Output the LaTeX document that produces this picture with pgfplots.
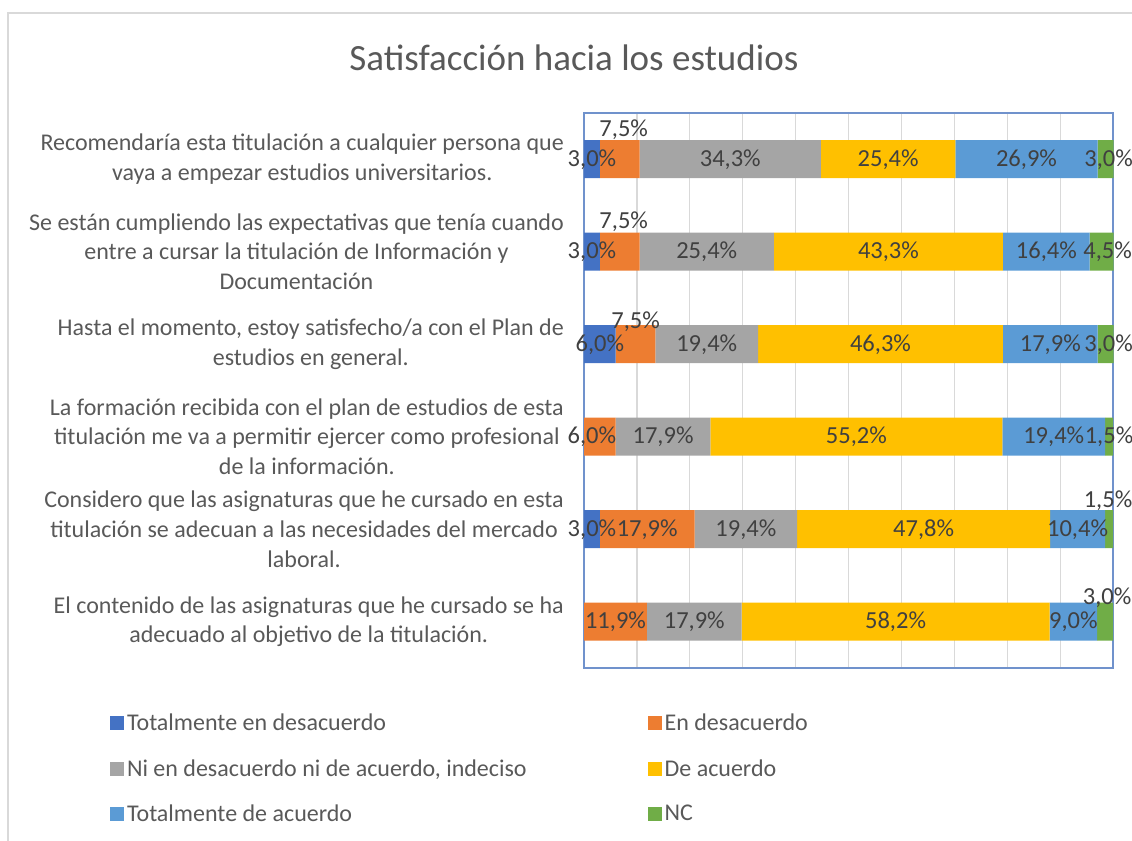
\documentclass[border=0pt]{standalone}
\usepackage{fontspec}
\setmainfont{Carlito}
\usepackage{pgfplots}
\usepackage{pgfplotstable}
\pgfplotsset{compat=1.18}

\definecolor{cTD}{HTML}{4472C4}
\definecolor{cED}{HTML}{ED7D31}
\definecolor{cNI}{HTML}{A5A5A5}
\definecolor{cDA}{HTML}{FFC000}
\definecolor{cTA}{HTML}{5B9BD5}
\definecolor{cNC}{HTML}{70AD47}
\definecolor{txt}{HTML}{595959}
\definecolor{lab}{HTML}{404040}
\definecolor{gridc}{HTML}{D9D9D9}
\definecolor{axc}{RGB}{112,146,204}

% y: 5 = top row ... 0 = bottom row
\pgfplotstableread{
y val lab dx dy
5 3.0 3,0\% 0 0
4 3.0 3,0\% 0 0
3 6.0 6,0\% 0 0
2 0 {} 0 0
1 3.0 3,0\% 0 0
0 0 {} 0 0
}\tblTD
\pgfplotstableread{
y val lab dx dy
5 7.5 7,5\% 4 30
4 7.5 7,5\% 4 30
3 7.5 7,5\% 0 23
2 6.0 6,0\% -8 0
1 17.9 17,9\% 0 0
0 11.9 11,9\% 0 0
}\tblED
\pgfplotstableread{
y val lab dx dy
5 34.3 34,3\% 0 0
4 25.4 25,4\% 0 0
3 19.4 19,4\% 0 0
2 17.9 17,9\% 0 0
1 19.4 19,4\% 0 0
0 17.9 17,9\% 0 0
}\tblNI
\pgfplotstableread{
y val lab dx dy
5 25.4 25,4\% 0 0
4 43.3 43,3\% 0 0
3 46.3 46,3\% 0 0
2 55.2 55,2\% 0 0
1 47.8 47,8\% 0 0
0 58.2 58,2\% 0 0
}\tblDA
\pgfplotstableread{
y val lab dx dy
5 26.9 26,9\% 0 0
4 16.4 16,4\% 0 0
3 17.9 17,9\% 0 0
2 19.4 19,4\% 0 0
1 10.4 10,4\% 0 0
0 9.0 9,0\% 0 0
}\tblTA
\pgfplotstableread{
y val lab dx dy
5 3.0 3,0\% 3 0
4 4.5 4,5\% 6 0
3 3.0 3,0\% 3 0
2 1.5 1,5\% 0 0
1 1.5 1,5\% -1 29
0 3.0 3,0\% 2 24
}\tblNC

\begin{document}
\begin{tikzpicture}
\useasboundingbox (0,0) rectangle (1132bp,841bp);
\draw[gridc, line width=2bp] (7.5bp,0) -- (7.5bp,827.5bp) -- (1132bp,827.5bp);
\begin{axis}[
  at={(584bp,173bp)}, anchor=south west,
  scale only axis,
  width=529bp, height=555bp,
  xbar stacked,
  bar width=38bp,
  xmin=0, xmax=100,
  ymin=-0.5, ymax=5.5,
  clip=false,
  xtick={0,10,...,100},
  xticklabels={},
  xmajorgrids,
  grid style={gridc, line width=1.2bp},
  major tick length=0pt,
  axis line style={axc, line width=1.5bp},
  ytick={0,1,2,3,4,5},
  yticklabels={
    {El contenido de las asignaturas que he cursado se ha\\adecuado al objetivo de la titulación.},
    {Considero que las asignaturas que he cursado en esta\\titulación se adecuan a las necesidades del mercado\\laboral.},
    {La formación recibida con el plan de estudios de esta\\titulación me va a permitir ejercer como profesional\\de la información.},
    {Hasta el momento, estoy satisfecho/a con el Plan de\\estudios en general.},
    {Se están cumpliendo las expectativas que tenía cuando\\entre a cursar la titulación de Información y\\Documentación},
    {Recomendaría esta titulación a cualquier persona que\\vaya a empezar estudios universitarios.}
  },
  yticklabel style={align=center, font=\fontsize{24bp}{29.6bp}\selectfont, text=txt, inner sep=0pt, xshift=-20bp},
  title={Satisfacción hacia los estudios},
  title style={at={(-0.019,1.088)}, anchor=center, font=\fontsize{37bp}{44bp}\selectfont, text=txt},
  point meta=explicit symbolic,
  nodes near coords,
  visualization depends on={\thisrow{dx}\as\mydx},
  visualization depends on={\thisrow{dy}\as\mydy},
  every node near coord/.append style={anchor=center, inner sep=0pt,
    font=\fontsize{24.5bp}{29bp}\selectfont, text=lab,
    xshift=\mydx*1bp, yshift=\mydy*1bp},
  legend columns=2,
  legend cell align=left,
  legend style={at={(-0.902,-0.074)}, anchor=north west, draw=none, fill=none,
    font=\fontsize{24bp}{29bp}\selectfont, text=txt, row sep=21bp,
    nodes={inner sep=3bp},
    /tikz/column 2/.style={column sep=118bp}},
  legend image code/.code={\fill[#1,draw=none] (0bp,-7bp) rectangle (14bp,7bp);},
]
\addplot[fill=cTD, draw=none] table[x=val, y=y, meta=lab] {\tblTD};
\addplot[fill=cED, draw=none] table[x=val, y=y, meta=lab] {\tblED};
\addplot[fill=cNI, draw=none] table[x=val, y=y, meta=lab] {\tblNI};
\addplot[fill=cDA, draw=none] table[x=val, y=y, meta=lab] {\tblDA};
\addplot[fill=cTA, draw=none] table[x=val, y=y, meta=lab] {\tblTA};
\addplot[fill=cNC, draw=none] table[x=val, y=y, meta=lab] {\tblNC};
\legend{Totalmente en desacuerdo, En desacuerdo, {Ni en desacuerdo ni de acuerdo, indeciso}, De acuerdo, Totalmente de acuerdo, NC}
\end{axis}
\end{tikzpicture}
\end{document}
